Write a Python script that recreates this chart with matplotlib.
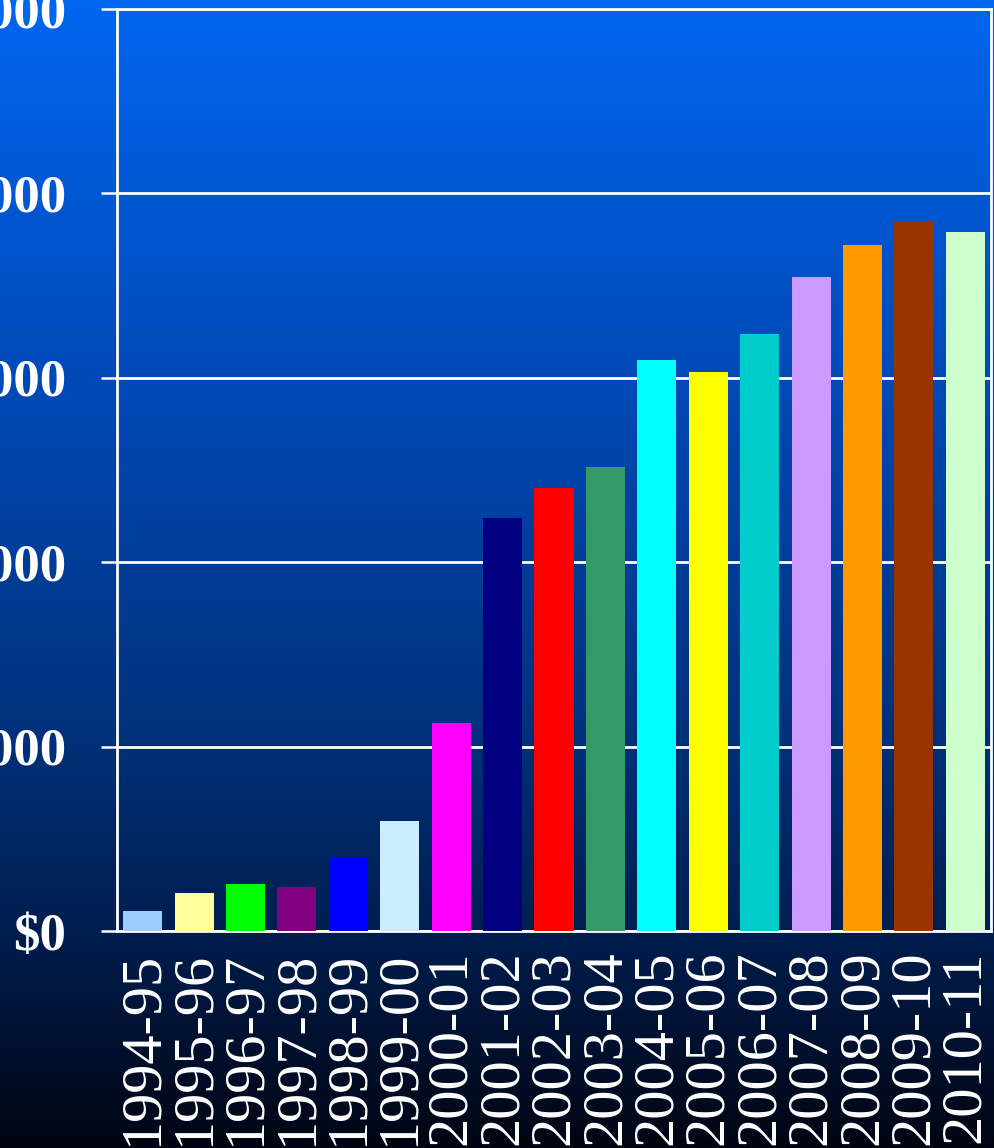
import matplotlib
matplotlib.use("Agg")
import matplotlib.pyplot as plt
import numpy as np
from matplotlib.colors import LinearSegmentedColormap

# Spending per fiscal year
years = ["1994-95", "1995-96", "1996-97", "1997-98", "1998-99", "1999-00",
         "2000-01", "2001-02", "2002-03", "2003-04", "2004-05", "2005-06",
         "2006-07", "2007-08", "2008-09", "2009-10", "2010-11"]
amounts = [108, 206, 255, 238, 400, 596, 1127, 2237, 2400, 2514,
           3094, 3030, 3240, 3545, 3720, 3853, 3788]
bar_colors = ["#99CCFF", "#FFFF99", "#00FF00", "#800080", "#0000FF",
              "#CCECFF", "#FF00FF", "#000080", "#FF0000", "#339966",
              "#00FFFF", "#FFFF00", "#00CCCC", "#CC99FF", "#FF9900",
              "#993300", "#CCFFCC"]
y_ticks = [0, 1000, 2000, 3000, 4000, 5000]

W, H = 994, 1148
fig = plt.figure(figsize=(W / 100, H / 100), dpi=100)

# vertical blue-to-black backdrop
bg = fig.add_axes([0, 0, 1, 1], zorder=0)
grad = LinearSegmentedColormap.from_list(
    "deep_blue",
    [(0.0, "#0066F0"), (0.35, "#0048B4"), (0.65, "#003078"),
     (0.81, "#001E50"), (1.0, "#000512")])
bg.imshow(np.linspace(0, 1, 256).reshape(-1, 1), aspect="auto",
          cmap=grad, extent=[0, 1, 0, 1])
bg.set_axis_off()

left, right = 117 / W, 991 / W
bottom, top = 1 - 931 / H, 1 - 9 / H
ax = fig.add_axes([left, bottom, right - left, top - bottom], zorder=1)
ax.set_facecolor("none")

x = np.arange(len(years))
ax.bar(x, amounts, width=0.76, color=bar_colors, zorder=3)

ax.set_xlim(-0.5, len(years) - 0.5)
ax.set_ylim(0, 5000)
ax.set_yticks(y_ticks)
ax.set_yticklabels([f"${v:,}" for v in y_ticks],
                   fontfamily="Liberation Serif", fontweight="bold",
                   fontsize=38, color="white")
ax.set_xticks(x)
ax.set_xticklabels(years, rotation=90, fontfamily="Liberation Serif",
                   fontsize=42, color="white", va="top")

ax.tick_params(axis="y", length=11.5, width=1.8, color="white", pad=25)
ax.tick_params(axis="x", length=0, pad=14)
ax.yaxis.grid(True, color="white", linewidth=2, zorder=1)
ax.set_axisbelow(True)
for s in ax.spines.values():
    s.set_color("white")
    s.set_linewidth(2)

fig.savefig("out.png", dpi=100)
